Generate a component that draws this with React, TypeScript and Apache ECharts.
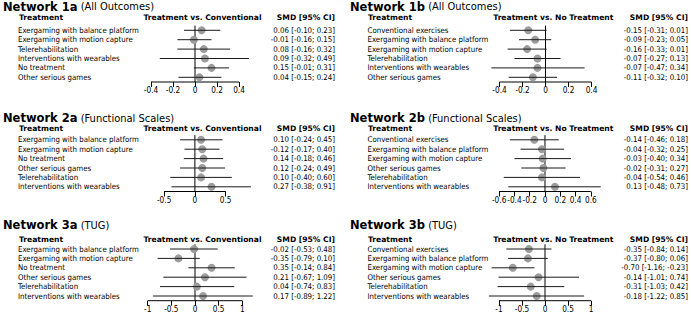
import React, { useEffect, useRef } from "react";
import * as echarts from "echarts";

const FONT = "DejaVu Sans";
const FONT_C = "'DejaVu Sans Condensed', 'DejaVu Sans'";

// ---------- Data ----------
const names = ["Network 1a", "Network 1b", "Network 2a", "Network 2b", "Network 3a", "Network 3b"];
const subs = ["(All Outcomes)", "(All Outcomes)", "(Functional Scales)", "(Functional Scales)", "(TUG)", "(TUG)"];
const comparisons = [
  "Treatment vs. Conventional", "Treatment vs. No Treatment",
  "Treatment vs. Conventional", "Treatment vs. No Treatment",
  "Treatment vs. Conventional", "Treatment vs. No Treatment",
];
const headTreatment = "Treatment";
const headSmd = "SMD [95% CI]";

const treat1a = ["Exergaming with balance platform", "Exergaming with motion capture", "Telerehabilitation", "Interventions with wearables", "No treatment", "Other serious games"];
const est1a = [0.06, -0.01, 0.08, 0.09, 0.15, 0.04];
const lo1a = [-0.10, -0.16, -0.16, -0.32, -0.01, -0.15];
const hi1a = [0.23, 0.15, 0.32, 0.49, 0.31, 0.24];
const smd1a = ["0.06 [-0.10; 0.23]", "-0.01 [-0.16; 0.15]", "0.08 [-0.16; 0.32]", "0.09 [-0.32; 0.49]", "0.15 [-0.01; 0.31]", "0.04 [-0.15; 0.24]"];
const ticks1a = [-0.4, -0.2, 0, 0.2, 0.4];

const treat1b = ["Conventional exercises", "Exergaming with balance platform", "Exergaming with motion capture", "Telerehabilitation", "Interventions with wearables", "Other serious games"];
const est1b = [-0.15, -0.09, -0.16, -0.07, -0.07, -0.11];
const lo1b = [-0.31, -0.23, -0.33, -0.27, -0.47, -0.32];
const hi1b = [0.01, 0.05, 0.01, 0.13, 0.34, 0.10];
const smd1b = ["-0.15 [-0.31; 0.01]", "-0.09 [-0.23; 0.05]", "-0.16 [-0.33; 0.01]", "-0.07 [-0.27; 0.13]", "-0.07 [-0.47; 0.34]", "-0.11 [-0.32; 0.10]"];
const ticks1b = [-0.4, -0.2, 0, 0.2, 0.4];

const treat2a = ["Exergaming with balance platform", "Exergaming with motion capture", "No treatment", "Other serious games", "Telerehabilitation", "Interventions with wearables"];
const est2a = [0.10, 0.12, 0.14, 0.12, 0.10, 0.27];
const lo2a = [-0.24, -0.17, -0.18, -0.24, -0.40, -0.38];
const hi2a = [0.45, 0.40, 0.46, 0.49, 0.60, 0.91];
const smd2a = ["0.10 [-0.24; 0.45]", "-0.12 [-0.17; 0.40]", "0.14 [-0.18; 0.46]", "0.12 [-0.24; 0.49]", "0.10 [-0.40; 0.60]", "0.27 [-0.38; 0.91]"];
const ticks2a = [-0.5, 0, 0.5];

const treat2b = ["Conventional exercises", "Exergaming with balance platform", "Exergaming with motion capture", "Other serious games", "Telerehabilitation", "Interventions with wearables"];
const est2b = [-0.14, -0.04, -0.03, -0.02, -0.04, 0.13];
const lo2b = [-0.46, -0.32, -0.40, -0.31, -0.54, -0.48];
const hi2b = [0.18, 0.25, 0.34, 0.27, 0.46, 0.73];
const smd2b = ["-0.14 [-0.46; 0.18]", "-0.04 [-0.32; 0.25]", "-0.03 [-0.40; 0.34]", "-0.02 [-0.31; 0.27]", "-0.04 [-0.54; 0.46]", "0.13 [-0.48; 0.73]"];
const ticks2b = [-0.6, -0.4, -0.2, 0, 0.2, 0.4, 0.6];

const treat3a = ["Exergaming with balance platform", "Exergaming with motion capture", "No treatment", "Other serious games", "Telerehabilitation", "Interventions with wearables"];
const est3a = [-0.02, -0.35, 0.35, 0.21, 0.04, 0.17];
const lo3a = [-0.53, -0.79, -0.14, -0.67, -0.74, -0.89];
const hi3a = [0.48, 0.10, 0.84, 1.09, 0.83, 1.22];
const smd3a = ["-0.02 [-0.53; 0.48]", "-0.35 [-0.79; 0.10]", "0.35 [-0.14; 0.84]", "0.21 [-0.67; 1.09]", "0.04 [-0.74; 0.83]", "0.17 [-0.89; 1.22]"];
const ticks3a = [-1, -0.5, 0, 0.5, 1];

const treat3b = ["Conventional exercises", "Exergaming with balance platform", "Exergaming with motion capture", "Other serious games", "Telerehabilitation", "Interventions with wearables"];
const est3b = [-0.35, -0.37, -0.70, -0.14, -0.31, -0.18];
const lo3b = [-0.84, -0.80, -1.16, -1.01, -1.03, -1.22];
const hi3b = [0.14, 0.06, -0.23, 0.74, 0.42, 0.85];
const smd3b = ["-0.35 [-0.84; 0.14]", "-0.37 [-0.80; 0.06]", "-0.70 [-1.16; -0.23]", "-0.14 [-1.01; 0.74]", "-0.31 [-1.03; 0.42]", "-0.18 [-1.22; 0.85]"];
const ticks3b = [-1, -0.5, 0, 0.5, 1];

const treats = [treat1a, treat1b, treat2a, treat2b, treat3a, treat3b];
const ests = [est1a, est1b, est2a, est2b, est3a, est3b];
const los = [lo1a, lo1b, lo2a, lo2b, lo3a, lo3b];
const his = [hi1a, hi1b, hi2a, hi2b, hi3a, hi3b];
const smds = [smd1a, smd1b, smd2a, smd2b, smd3a, smd3b];
const tickSets = [ticks1a, ticks1b, ticks2a, ticks2b, ticks3a, ticks3b];

// ---------- Layout ----------
const cols = [
  { title: 3, label: 18, head: 19, cmpC: 202.5, valR: 335 },
  { title: 350, label: 367.5, head: 368, cmpC: 553.3, valR: 688 },
];
const rowsY = [
  { titleY: 6.5, headY: 17.3, top: 25.6 },
  { titleY: 118.3, headY: 128.5, top: 135.1 },
  { titleY: 225, headY: 239.3, top: 244.3 },
];
const GRID_H = 56.4;
const axisLayouts = [
  { min: -0.5, max: 0.6, left: 140, width: 121 },
  { min: -0.6, max: 0.5, left: 476.5, width: 126.5 },
  { min: -0.6, max: 1.0, left: 158, width: 98.4 },
  { min: -0.7, max: 0.8, left: 491.5, width: 114.6 },
  { min: -1.0, max: 1.3, left: 147.7, width: 108.8 },
  { min: -1.3, max: 1.0, left: 485.2, width: 105.8 },
];

function buildOption() {
  const grid: any[] = [];
  const xAxis: any[] = [];
  const yAxis: any[] = [];
  const series: any[] = [];
  const graphic: any[] = [];

  for (let i = 0; i < 6; i++) {
    const col = cols[i % 2];
    const rw = rowsY[Math.floor(i / 2)];
    const ax = axisLayouts[i];
    const ticks = tickSets[i];
    grid.push({ left: ax.left, top: rw.top, width: ax.width, height: GRID_H });
    xAxis.push({
      gridIndex: i,
      type: "value",
      min: ax.min,
      max: ax.max,
      axisLine: { show: false },
      splitLine: { show: false },
      axisTick: { show: true, customValues: ticks, length: 5, lineStyle: { color: "#000", width: 1 } },
      axisLabel: {
        customValues: ticks,
        fontSize: 8.2,
        fontFamily: FONT_C,
        color: "#000",
        margin: 4,
        formatter: (v: number) => String(v),
      },
    });
    yAxis.push({
      gridIndex: i,
      type: "category",
      data: treats[i],
      inverse: true,
      axisLine: { show: false },
      axisTick: { show: false },
      splitLine: { show: false },
      axisLabel: {
        interval: 0,
        align: "left",
        margin: ax.left - col.label,
        fontSize: 7.8,
        fontFamily: FONT_C,
        color: "#000",
      },
    });
    yAxis.push({
      gridIndex: i,
      type: "category",
      position: "right",
      data: smds[i],
      inverse: true,
      axisLine: { show: false },
      axisTick: { show: false },
      splitLine: { show: false },
      axisLabel: {
        interval: 0,
        align: "right",
        margin: col.valR - (ax.left + ax.width),
        fontSize: 7.8,
        fontFamily: FONT_C,
        color: "#000",
      },
    });
    // axis segment + zero reference line
    series.push({
      type: "custom",
      xAxisIndex: i,
      yAxisIndex: 2 * i,
      silent: true,
      z: 2,
      data: [[ticks[0], ticks[ticks.length - 1], 0, 0]],
      encode: { x: [0, 1, 2], y: 3 },
      renderItem: (params: any, api: any) => {
        const cs = params.coordSys;
        const bottom = cs.y + cs.height;
        const a = api.coord([api.value(0), 0])[0];
        const b = api.coord([api.value(1), 0])[0];
        const z = api.coord([api.value(2), 0])[0];
        return {
          type: "group",
          children: [
            { type: "line", shape: { x1: a, y1: bottom, x2: b, y2: bottom }, style: { stroke: "#000", lineWidth: 1 } },
            { type: "line", shape: { x1: z, y1: cs.y, x2: z, y2: bottom }, style: { stroke: "#000", lineWidth: 1 } },
          ],
        };
      },
    });
    // CIs and point estimates
    series.push({
      type: "custom",
      xAxisIndex: i,
      yAxisIndex: 2 * i,
      silent: true,
      z: 3,
      data: ests[i].map((e, k) => [los[i][k], his[i][k], e, k]),
      encode: { x: [0, 1, 2], y: 3 },
      renderItem: (params: any, api: any) => {
        const row = api.value(3);
        const p1 = api.coord([api.value(0), row]);
        const p2 = api.coord([api.value(1), row]);
        const pc = api.coord([api.value(2), row]);
        return {
          type: "group",
          children: [
            { type: "circle", shape: { cx: pc[0], cy: pc[1], r: 4 }, style: { fill: "#9c9c9c" } },
            { type: "line", shape: { x1: p1[0], y1: p1[1], x2: p2[0], y2: p2[1] }, style: { stroke: "#1a1a1a", lineWidth: 1 } },
          ],
        };
      },
    });

    // texts
    graphic.push({
      type: "text",
      x: col.title,
      y: rw.titleY,
      style: {
        text: "{b|" + names[i] + "} " + subs[i],
        fontSize: 11,
        fontFamily: FONT_C,
        fill: "#000",
        verticalAlign: "middle",
        textVerticalAlign: "middle",
        rich: { b: { fontSize: 11.5, fontFamily: FONT, fontWeight: "bold", fill: "#000" } },
      },
    });
    const headStyle = { fontSize: 7.6, fontFamily: FONT, fontWeight: "bold", fill: "#000", verticalAlign: "middle", textVerticalAlign: "middle" };
    graphic.push({ type: "text", x: col.head, y: rw.headY, style: { ...headStyle, text: headTreatment, align: "left", textAlign: "left" } });
    graphic.push({ type: "text", x: col.cmpC, y: rw.headY, style: { ...headStyle, text: comparisons[i], align: "center", textAlign: "center" } });
    graphic.push({ type: "text", x: col.valR, y: rw.headY, style: { ...headStyle, text: headSmd, align: "right", textAlign: "right" } });
  }

  return {
    animation: false,
    backgroundColor: "#ffffff",
    grid,
    xAxis,
    yAxis,
    series,
    graphic,
  };
}

export default function App() {
  const ref = useRef<HTMLDivElement>(null);
  useEffect(() => {
    document.body.style.margin = "0";
    if (!ref.current) return;
    const chart = echarts.init(ref.current, null, { renderer: "svg" });
    chart.setOption(buildOption() as any);
    return () => chart.dispose();
  }, []);
  return <div ref={ref} style={{ width: 691, height: 317 }} />;
}
